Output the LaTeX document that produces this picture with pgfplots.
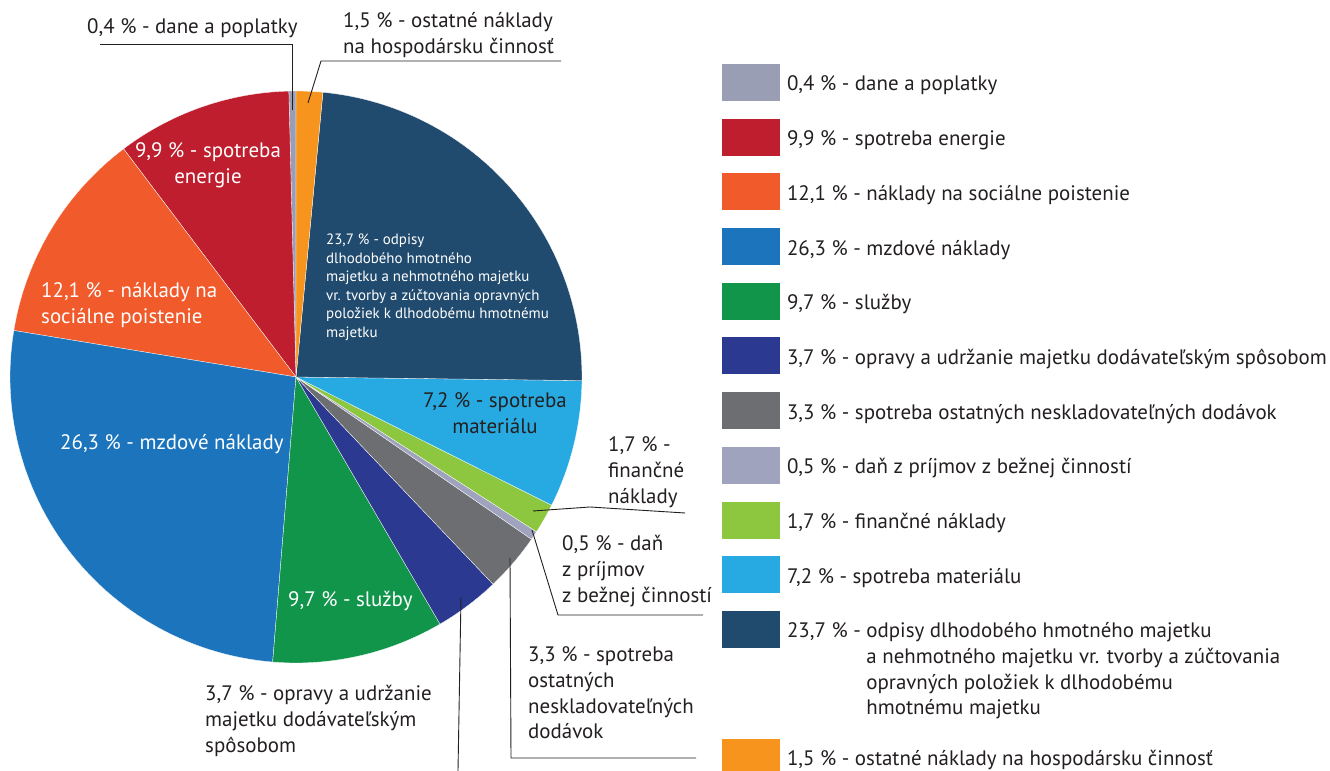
\documentclass[border=0pt]{standalone}
\usepackage{pgfplots}
\pgfplotsset{compat=1.18}
\usepackage{fontspec}
\setmainfont{PT Sans}
\definecolor{cText}{RGB}{35,31,32}
\definecolor{cDane}{RGB}{154,158,181}
\definecolor{cEnergie}{RGB}{190,30,45}
\definecolor{cSoc}{RGB}{241,90,43}
\definecolor{cMzd}{RGB}{28,117,188}
\definecolor{cSluz}{RGB}{16,149,74}
\definecolor{cOpr}{RGB}{43,57,144}
\definecolor{cOst}{RGB}{109,110,113}
\definecolor{cDan}{RGB}{160,163,190}
\definecolor{cFin}{RGB}{141,198,63}
\definecolor{cMat}{RGB}{39,170,225}
\definecolor{cOdp}{RGB}{33,75,110}
\definecolor{cOstN}{RGB}{247,148,29}
\newcommand\lines[2]{\begin{tabular}[t]{@{}#1@{}}#2\end{tabular}}
\newcommand\odpisleg{\lines{l}{23,7 \% - odpisy dlhodobého hmotného majetku\\
\phantom{23,7 \% - }a nehmotného majetku vr. tvorby a zúčtovania\\
\phantom{23,7 \% - }opravných položiek k dlhodobému\\
\phantom{23,7 \% - }hmotnému majetku}}
\def\cum{90}
\newcommand\slice[3]{%
  \pgfmathsetmacro\sa{\cum}%
  \pgfmathsetmacro\sb{\cum+3.6*#1}%
  \edef\doslice{\noexpand\addplot[fill=#2, draw=white, line width=0.3pt, domain=\sa:\sb, samples=60]}%
  \doslice ({296+286*cos(x)},{394+286*sin(x)}) -- (axis cs:296,394) -- cycle;
  \addlegendentry{#3}%
  \xdef\cum{\sb}}
\begin{document}
\begin{tikzpicture}[
  lbl/.style={inner sep=0pt, anchor=base west, font=\fontsize{21}{25.7}\selectfont, text=cText},
  wlbl/.style={lbl, text=white},
  leader/.style={draw=cText, line width=0.9bp}]
\begin{axis}[at={(0,0)}, anchor=south west,
  width=1330bp, height=771bp, scale only axis,
  xmin=0, xmax=1330, ymin=0, ymax=771,
  hide axis, clip=false,
  legend image code/.code={\fill[#1, draw=none] (0bp,-10bp) rectangle (58bp,27bp);},
  legend style={draw=none, fill=none, inner sep=0pt, outer sep=0pt,
    at={(0.54286,0.91699)}, anchor=north west,
    row sep=17.7bp, column sep=7bp,
    nodes={inner sep=0pt, font=\fontsize{21}{25.7}\selectfont, text=cText},
    cells={anchor=base west}},
]
\slice{0.4}{cDane}{0,4 \% - dane a poplatky}
\slice{9.9}{cEnergie}{9,9 \% - spotreba energie}
\slice{12.1}{cSoc}{12,1 \% - náklady na sociálne poistenie}
\slice{26.3}{cMzd}{26,3 \% - mzdové náklady}
\slice{9.7}{cSluz}{9,7 \% - služby}
\slice{3.7}{cOpr}{3,7 \% - opravy a udržanie majetku dodávateľským spôsobom}
\slice{3.3}{cOst}{3,3 \% - spotreba ostatných neskladovateľných dodávok}
\slice{0.5}{cDan}{0,5 \% - daň z príjmov z bežnej činností}
\slice{1.7}{cFin}{1,7 \% - finančné náklady}
\slice{7.2}{cMat}{7,2 \% - spotreba materiálu}
\slice{23.7}{cOdp}{\odpisleg}
\slice{1.5}{cOstN}{\rule{0pt}{100bp}1,5 \% - ostatné náklady na hospodársku činnosť}
% leader lines
\addplot[forget plot, leader] coordinates {(100,727) (292,727) (292,661)};
\addplot[forget plot, leader] coordinates {(308,668) (321,710) (561,710)};
\addplot[forget plot, leader] coordinates {(533,260) (590,264) (685,258)};
\addplot[forget plot, leader] coordinates {(532,241) (558,156) (703,156)};
\addplot[forget plot, leader] coordinates {(510,213) (511,13) (696,13)};
\addplot[forget plot, leader] coordinates {(461,174) (458,0)};
% labels
\node[lbl] at (axis cs:87,737) {0,4 \% - dane a poplatky};
\node[lbl] at (axis cs:343,743) {\lines{l}{1,5 \% - ostatné náklady\\na hospodársku činnosť}};
\node[lbl] at (axis cs:608,319) {\lines{l}{1,7 \% -\\finančné\\náklady}};
\node[lbl] at (axis cs:562,220) {\lines{l}{0,5 \% - daň\\z príjmov\\z bežnej činností}};
\node[lbl] at (axis cs:528,109) {\lines{l}{3,3 \% - spotreba\\ostatných\\neskladovateľných\\dodávok}};
\node[lbl] at (axis cs:205,70) {\lines{l}{3,7 \% - opravy a udržanie\\majetku dodávateľským\\spôsobom}};
\node[wlbl] at (axis cs:288,164) {9,7 \% - služby};
\node[wlbl, anchor=base] at (axis cs:208,613) {\lines{c}{9,9 \% - spotreba\\energie}};
\node[wlbl] at (axis cs:41,473) {\lines{l}{12,1 \% - náklady na\\sociálne poistenie}};
\node[wlbl] at (axis cs:60,321) {26,3 \% - mzdové náklady};
\node[wlbl, font=\fontsize{15}{18.5}\selectfont] at (axis cs:326,526) {\lines{l}{23,7 \% - odpisy\\dlhodobého hmotného\\majetku a nehmotného majetku\\vr. tvorby a zúčtovania opravných\\položiek k dlhodobému hmotnému\\majetku}};
\node[lbl, anchor=base] at (axis cs:495,363) {\lines{c}{7,2 \% - spotreba\\materiálu}};
\end{axis}
\pgfresetboundingbox
\path (0,0) rectangle (1330bp,771bp);
\end{tikzpicture}
\end{document}
